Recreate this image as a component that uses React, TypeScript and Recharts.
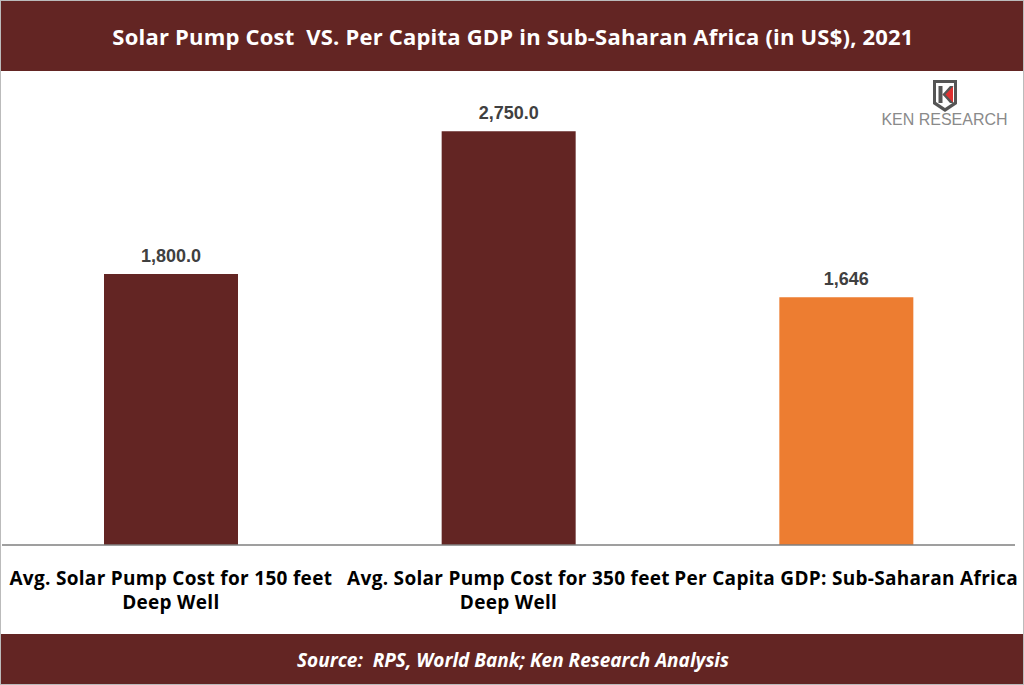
import React from "react";
import { BarChart, Bar, XAxis, YAxis, Cell, LabelList } from "recharts";

const categories = [
  "Avg. Solar Pump Cost for 150 feet Deep Well",
  "Avg. Solar Pump Cost for 350 feet Deep Well",
  "Per Capita GDP: Sub-Saharan Africa",
];
const tickLines = [
  ["Avg. Solar Pump Cost for 150 feet", "Deep Well"],
  ["Avg. Solar Pump Cost for 350 feet", "Deep Well"],
  ["Per Capita GDP: Sub-Saharan Africa"],
];
const values = [1800, 2750, 1646];
const valueLabels = ["1,800.0", "2,750.0", "1,646"];
const barColors = ["#632523", "#632523", "#ED7D31"];

const data = categories.map((c, i) => ({ name: c, value: values[i], label: valueLabels[i], idx: i }));

const TITLE_FONT = "'Open Sans', 'Noto Sans', sans-serif";

const XTick = (props: any) => {
  const { x, y, index } = props;
  const lines = tickLines[index] || [];
  return (
    <g>
      {lines.map((l, i) => (
        <text
          key={i}
          x={x}
          y={y + 32 + i * 24}
          textAnchor="middle"
          fill="#000"
          fontFamily={TITLE_FONT}
          fontWeight={700}
          fontSize={19}
          style={{ letterSpacing: "0.3px" }}
        >
          {l}
        </text>
      ))}
    </g>
  );
};

const Logo = () => (
  <svg width={150} height={52} style={{ position: "absolute", left: 870, top: 76 }}>
    <path d="M62 3 L86 3 L86 27 L74 35 L62 27 Z" fill="#555" />
    <path d="M65 6 L83 6 L83 25 L74 31 L65 25 Z" fill="#fff" />
    <rect x={67.5} y={9} width={4} height={17} fill="#555" />
    <path d="M71.5 17.5 L82 9 L82 26 Z" fill="#e03030" />
    <path d="M71.5 17.5 L79 9 L82.5 9 L74.5 17.5 L82.5 26 L79 26 Z" fill="#555" />
    <text x={73.5} y={48} textAnchor="middle" fontFamily="'Liberation Sans', Arial, sans-serif" fontSize={16} fill="#8a8a8a">
      KEN RESEARCH
    </text>
  </svg>
);

export default function App() {
  return (
    <div
      style={{
        position: "absolute",
        left: 0,
        top: 0,
        width: 1024,
        height: 685,
        background: "#fff",
        boxSizing: "border-box",
        border: "1px solid #bbb",
        overflow: "hidden",
      }}
    >
      <div
        style={{
          position: "absolute",
          left: 0,
          top: 0,
          width: 1024,
          height: 70,
          background: "#632523",
          color: "#fff",
          fontFamily: TITLE_FONT,
          fontWeight: 700,
          fontSize: 22,
          lineHeight: "70px",
          textAlign: "center",
          whiteSpace: "pre",
          letterSpacing: "0.2px",
        }}
      >
        {"Solar Pump Cost  VS. Per Capita GDP in Sub-Saharan Africa (in US$), 2021"}
      </div>
      <Logo />
      <div style={{ position: "absolute", left: -1, top: -1 }}>
        <BarChart
          width={1024}
          height={632}
          data={data}
          margin={{ top: 93.5, right: 9, bottom: 0, left: 2 }}
          barCategoryGap={102}
        >
          <YAxis hide domain={[0, 3000]} />
          <XAxis
            dataKey="name"
            height={87}
            axisLine={{ stroke: "#7f7f7f", strokeWidth: 1.5 }}
            tickLine={false}
            tick={<XTick />}
            interval={0}
          />
          <Bar dataKey="value" isAnimationActive={false}>
            {data.map((d, i) => (
              <Cell key={i} fill={barColors[i]} />
            ))}
            <LabelList
              dataKey="label"
              position="top"
              offset={12}
              fill="#404040"
              fontFamily="'Liberation Sans', Arial, sans-serif"
              fontWeight={700}
              fontSize={18}
            />
          </Bar>
        </BarChart>
      </div>
      <div
        style={{
          position: "absolute",
          left: 0,
          top: 633,
          width: 1024,
          height: 52,
          background: "#632523",
          color: "#fff",
          fontFamily: TITLE_FONT,
          fontWeight: 700,
          fontStyle: "italic",
          fontSize: 19,
          lineHeight: "52px",
          textAlign: "center",
          whiteSpace: "pre",
        }}
      >
        {"Source:  RPS, World Bank; Ken Research Analysis"}
      </div>
    </div>
  );
}
